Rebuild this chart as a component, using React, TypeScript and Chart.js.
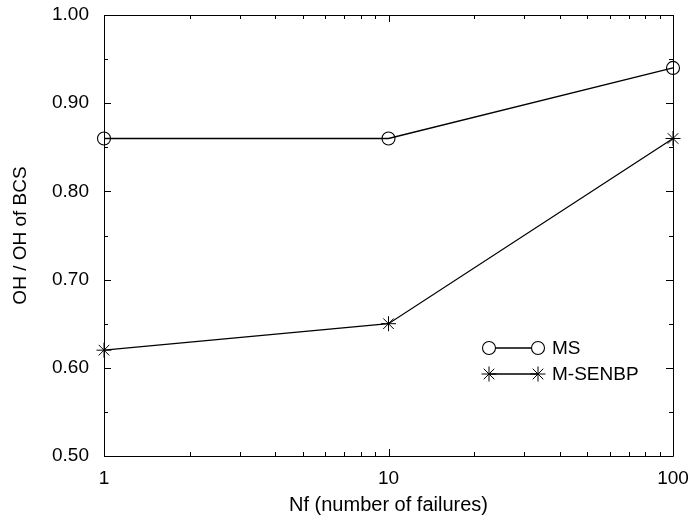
import React, { useEffect, useRef } from "react";
import { Chart, registerables } from "chart.js";
import { drawPoint } from "chart.js/helpers";

Chart.register(...registerables);

const failures = [1, 10, 100];
const msValues = [0.86, 0.86, 0.94];
const msenbpValues = [0.62, 0.65, 0.86];
const seriesLabels = ["MS", "M-SENBP"];
const xMajorTicks = [1, 10, 100];
const xMinorTicks = [2, 3, 4, 5, 6, 7, 8, 9, 20, 30, 40, 50, 60, 70, 80, 90];
const yMin = 0.5;
const yMax = 1.0;
const yStep = 0.1;
const xTitle = "Nf (number of failures)";
const yTitle = "OH / OH of BCS";

const FONT = "'Liberation Sans', Arial, Helvetica, sans-serif";

const frameTicksPlugin = {
  id: "frameTicks",
  afterDraw(chart: any) {
    const { ctx, chartArea: a, scales } = chart;
    const xs = scales.x;
    const ys = scales.y;
    ctx.save();
    ctx.strokeStyle = "#000";
    ctx.lineWidth = 1;
    ctx.beginPath();
    ctx.rect(Math.round(a.left) + 0.5, Math.round(a.top) + 0.5, Math.round(a.right - a.left), Math.round(a.bottom - a.top));
    ctx.stroke();
    const major = 7;
    const minor = 4;
    ctx.beginPath();
    const xTick = (v: number, len: number) => {
      const px = Math.round(xs.getPixelForValue(v)) + 0.5;
      ctx.moveTo(px, a.bottom);
      ctx.lineTo(px, a.bottom - len);
      ctx.moveTo(px, a.top);
      ctx.lineTo(px, a.top + len);
    };
    xMajorTicks.forEach((v) => xTick(v, major));
    xMinorTicks.forEach((v) => xTick(v, minor));
    const yTick = (v: number, len: number) => {
      const py = Math.round(ys.getPixelForValue(v)) + 0.5;
      ctx.moveTo(a.left, py);
      ctx.lineTo(a.left + len, py);
      ctx.moveTo(a.right, py);
      ctx.lineTo(a.right - len, py);
    };
    ys.ticks.forEach((t: any, i: number) => {
      yTick(t.value, major);
      if (i < ys.ticks.length - 1) {
        yTick((t.value + ys.ticks[i + 1].value) / 2, minor);
      }
    });
    ctx.stroke();

    // legend inside plot
    const rows = [{ y: a.bottom - 108 }, { y: a.bottom - 82 }];
    const x1 = a.right - 184;
    const x2 = a.right - 135;
    ctx.font = `19px ${FONT}`;
    ctx.textBaseline = "middle";
    ctx.textAlign = "left";
    chart.data.datasets.forEach((ds: any, i: number) => {
      const y = rows[i].y;
      ctx.beginPath();
      ctx.lineWidth = ds.borderWidth;
      ctx.strokeStyle = ds.borderColor;
      ctx.moveTo(x1, y);
      ctx.lineTo(x2, y);
      ctx.stroke();
      const opts = {
        pointStyle: ds.pointStyle,
        radius: ds.pointRadius,
        borderWidth: ds.pointBorderWidth,
        rotation: 0,
      };
      ctx.fillStyle = "#fff";
      ctx.strokeStyle = ds.borderColor;
      ctx.lineWidth = ds.pointBorderWidth;
      drawPoint(ctx, opts as any, x1, y);
      drawPoint(ctx, opts as any, x2, y);
      ctx.fillStyle = "#000";
      ctx.fillText(ds.label, x2 + 14, y + 1);
    });
    ctx.restore();
  },
};

export default function App() {
  const ref = useRef<HTMLCanvasElement | null>(null);
  useEffect(() => {
    document.body.style.margin = "0";
    if (!ref.current) return;
    const chart = new Chart(ref.current, {
      type: "line",
      data: {
        datasets: [
          {
            label: seriesLabels[0],
            data: failures.map((x, i) => ({ x, y: msValues[i] })),
            borderColor: "#000",
            backgroundColor: "rgba(0,0,0,0)",
            borderWidth: 1.3,
            pointStyle: "circle",
            pointRadius: 6.5,
            pointBorderWidth: 1.1,
            pointBackgroundColor: "rgba(255,255,255,0)",
            pointBorderColor: "#000",
            tension: 0,
            clip: false,
          },
          {
            label: seriesLabels[1],
            data: failures.map((x, i) => ({ x, y: msenbpValues[i] })),
            borderColor: "#000",
            backgroundColor: "rgba(0,0,0,0)",
            borderWidth: 1.3,
            pointStyle: "star",
            pointRadius: 7.5,
            pointBorderWidth: 1,
            pointBackgroundColor: "#000",
            pointBorderColor: "#000",
            tension: 0,
            clip: false,
          },
        ],
      },
      options: {
        animation: false,
        responsive: false,
        events: [],
        layout: { padding: { left: 0, top: 15, right: 20, bottom: 0 } },
        plugins: { legend: { display: false }, tooltip: { enabled: false } },
        scales: {
          x: {
            type: "logarithmic",
            min: 1,
            max: 100,
            grid: { display: false, drawTicks: false },
            border: { display: false },
            afterFit: (s: any) => {
              s.height = 65;
              s.paddingLeft = 0;
              s.paddingRight = 0;
            },
            ticks: {
              autoSkip: false,
              maxRotation: 0,
              padding: 11,
              color: "#000",
              font: { family: FONT, size: 19 },
              callback: (v: any) => (xMajorTicks.includes(Number(v)) ? String(v) : ""),
            },
            title: {
              display: true,
              text: xTitle,
              color: "#000",
              font: { family: FONT, size: 20 },
              padding: { top: 0, bottom: 4 },
            },
          },
          y: {
            type: "linear",
            min: yMin,
            max: yMax,
            grid: { display: false, drawTicks: false },
            border: { display: false },
            afterFit: (s: any) => {
              s.width = 104;
              s.paddingTop = 0;
              s.paddingBottom = 0;
            },
            ticks: {
              stepSize: yStep,
              padding: 15,
              color: "#000",
              font: { family: FONT, size: 19 },
              callback: (v: any) => Number(v).toFixed(2),
            },
            title: {
              display: true,
              text: yTitle,
              color: "#000",
              font: { family: FONT, size: 19 },
              padding: { top: 9, bottom: 0 },
            },
          },
        },
      },
      plugins: [frameTicksPlugin],
    });
    return () => chart.destroy();
  }, []);
  return (
    <div style={{ width: 693, height: 521 }}>
      <canvas ref={ref} width={693} height={521} style={{ display: "block" }} />
    </div>
  );
}
